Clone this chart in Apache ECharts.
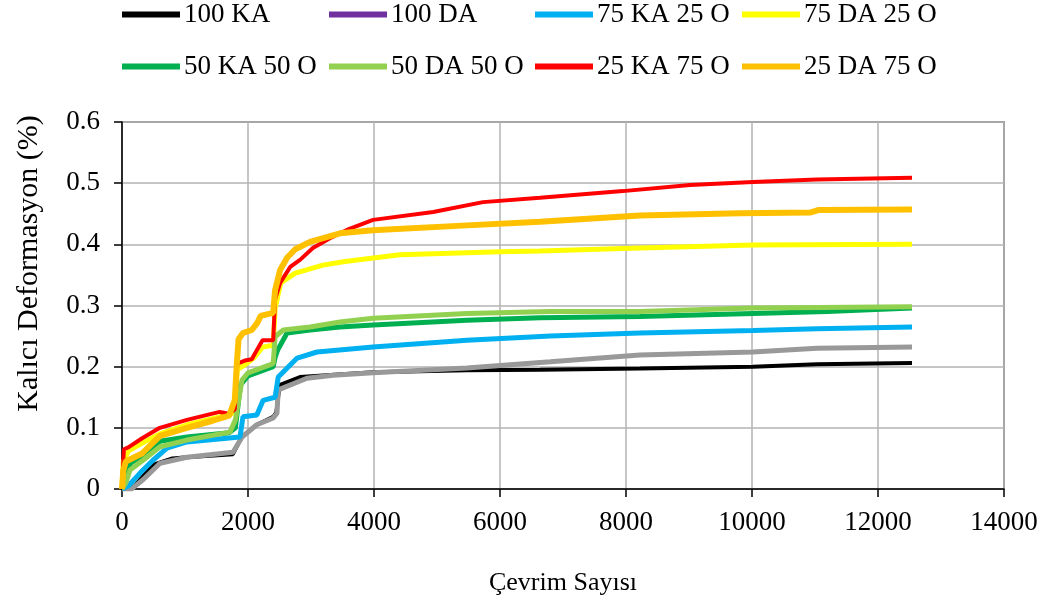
<!DOCTYPE html>
<html>
<head>
<meta charset="utf-8">
<script src="https://cdn.jsdelivr.net/npm/echarts@6/dist/echarts.min.js"></script>
<style>
  html, body { margin: 0; padding: 0; background: #fff; }
  #chart { width: 1051px; height: 610px; }
</style>
</head>
<body>
<div id="chart"></div>
<script>
// Permanent deformation vs load cycles — [cycle, %] pairs
const ka100 = [[0,0],[200,0.005],[500,0.04],[800,0.05],[1030,0.052],[1760,0.057],[1900,0.085],[2140,0.105],[2400,0.118],[2450,0.125],[2500,0.17],[2825,0.183],[3985,0.191],[5475,0.194],[6635,0.195],[8220,0.197],[10015,0.2],[11030,0.204],[12540,0.206]]
const da100 = [[0,0],[150,0],[333,0.015],[603,0.042],[1030,0.052],[1762,0.06],[1905,0.085],[2140,0.105],[2400,0.116],[2460,0.124],[2480,0.162],[2935,0.181],[3350,0.186],[3985,0.19],[5475,0.198],[6800,0.208],[8220,0.219],[10015,0.224],[11030,0.23],[12540,0.232]]
const ka75 = [[0,0],[100,0.005],[286,0.026],[492,0.047],[714,0.067],[1030,0.077],[1873,0.085],[1920,0.118],[2140,0.121],[2240,0.145],[2430,0.15],[2480,0.183],[2780,0.214],[3095,0.224],[3985,0.232],[5475,0.243],[6800,0.25],[8220,0.255],[10015,0.259],[11030,0.262],[12540,0.265]]
const da75 = [[0,0],[20,0.045],[100,0.062],[320,0.075],[600,0.09],[1030,0.105],[1550,0.118],[1790,0.125],[1830,0.195],[1950,0.203],[2100,0.215],[2230,0.232],[2400,0.235],[2430,0.295],[2520,0.337],[2750,0.353],[3190,0.366],[3540,0.372],[4410,0.383],[6000,0.388],[6635,0.389],[8220,0.394],[10015,0.399],[12540,0.4]]
const ka50 = [[0,0],[80,0.02],[130,0.042],[400,0.06],[600,0.078],[1030,0.085],[1700,0.092],[1800,0.1],[1880,0.17],[2000,0.185],[2400,0.2],[2430,0.215],[2470,0.227],[2620,0.255],[2985,0.26],[3460,0.265],[3985,0.268],[5475,0.276],[6635,0.28],[8220,0.282],[10015,0.287],[11200,0.29],[12540,0.296]]
const da50 = [[0,0],[60,0.01],[127,0.031],[333,0.047],[603,0.069],[1030,0.08],[1714,0.093],[1800,0.113],[1905,0.178],[2000,0.19],[2400,0.205],[2430,0.249],[2560,0.26],[2985,0.265],[3460,0.273],[3985,0.279],[5475,0.287],[6800,0.29],[8220,0.29],[10015,0.296],[12540,0.298]]
const ka25 = [[0,0],[30,0.065],[100,0.068],[320,0.083],[600,0.1],[1030,0.113],[1550,0.126],[1700,0.123],[1790,0.13],[1830,0.205],[1950,0.21],[2060,0.212],[2140,0.227],[2230,0.243],[2400,0.243],[2430,0.31],[2510,0.337],[2670,0.363],[2830,0.375],[3030,0.394],[3300,0.41],[3600,0.425],[3985,0.44],[4940,0.453],[5730,0.469],[6635,0.476],[7950,0.487],[9015,0.497],[10015,0.502],[11030,0.506],[12540,0.509]]
const da25 = [[0,0],[20,0.03],[60,0.045],[317,0.058],[603,0.087],[1030,0.1],[1450,0.112],[1700,0.12],[1790,0.145],[1820,0.2],[1850,0.245],[1920,0.255],[2060,0.26],[2150,0.272],[2200,0.283],[2400,0.288],[2430,0.325],[2510,0.358],[2620,0.378],[2750,0.392],[2985,0.404],[3460,0.418],[3985,0.423],[5475,0.431],[6635,0.437],[8220,0.447],[9810,0.451],[10920,0.452],[11050,0.456],[12540,0.457]]

const names = ['100 KA', '100 DA', '75 KA 25 O', '75 DA 25 O', '50 KA 50 O', '50 DA 50 O', '25 KA 75 O', '25 DA 75 O']
const seriesData = [ka100, da100, ka75, da75, ka50, da50, ka25, da25]
const colors = ['#000000', '#999999', '#00b0f0', '#ffff00', '#00b050', '#92d050', '#ff0000', '#ffc000']
const legendColors = ['#000000', '#7030a0', '#00b0f0', '#ffff00', '#00b050', '#92d050', '#ff0000', '#ffc000']
const widths = [4, 5, 5, 5, 5, 5, 4, 6]

const FONT = "'Liberation Serif', 'Times New Roman', serif"
const legendLeft = [122, 329, 535, 742]
const legendTop = [1, 53]

const chart = echarts.init(document.getElementById('chart'), null, { renderer: 'canvas' })

chart.setOption({
  backgroundColor: '#ffffff',
  animation: false,
  legend: names.map((n, i) => ({
    left: legendLeft[i % 4],
    top: legendTop[Math.floor(i / 4)],
    icon: 'rect',
    itemWidth: 58,
    itemHeight: 6,
    itemGap: 0,
    padding: 0,
    data: [{ name: n, itemStyle: { color: legendColors[i] } }],
    textStyle: { color: '#000', fontSize: 27, fontFamily: FONT, padding: [0, 0, 0, -1] },
  })),
  grid: {
    left: 122, right: 47, top: 122, bottom: 121,
    show: true, borderColor: '#595959', borderWidth: 1.5,
  },
  xAxis: {
    type: 'value',
    min: 0, max: 14000, interval: 2000,
    name: 'Çevrim Sayısı',
    nameLocation: 'middle',
    nameGap: 81,
    nameTextStyle: { color: '#000', fontSize: 26, fontFamily: FONT },
    axisLine: { show: true, lineStyle: { color: '#000', width: 1.5 } },
    axisTick: { show: true, length: 8, lineStyle: { color: '#000', width: 1.5 } },
    axisLabel: { color: '#000', fontSize: 27, fontFamily: FONT, margin: 20, formatter: (v) => String(v) },
    splitLine: { show: true, lineStyle: { color: '#b3b3b3', width: 1.5 } },
  },
  yAxis: {
    type: 'value',
    min: 0, max: 0.6, interval: 0.1,
    name: 'Kalıcı Deformasyon (%)',
    nameLocation: 'middle',
    nameGap: 78,
    nameTextStyle: { color: '#000', fontSize: 30, fontFamily: FONT, padding: [0, 0, 0, 84] },
    axisLine: { show: true, lineStyle: { color: '#000', width: 1.5 } },
    axisTick: { show: true, length: 8, lineStyle: { color: '#000', width: 1.5 } },
    axisLabel: { color: '#000', fontSize: 27, fontFamily: FONT, margin: 22 },
    splitLine: { show: true, lineStyle: { color: '#b3b3b3', width: 1.5 } },
  },
  series: names.map((n, i) => ({
    name: n,
    type: 'line',
    data: seriesData[i],
    symbol: 'none',
    lineStyle: { color: colors[i], width: widths[i] },
    itemStyle: { color: colors[i] },
  })),
})
</script>
</body>
</html>
